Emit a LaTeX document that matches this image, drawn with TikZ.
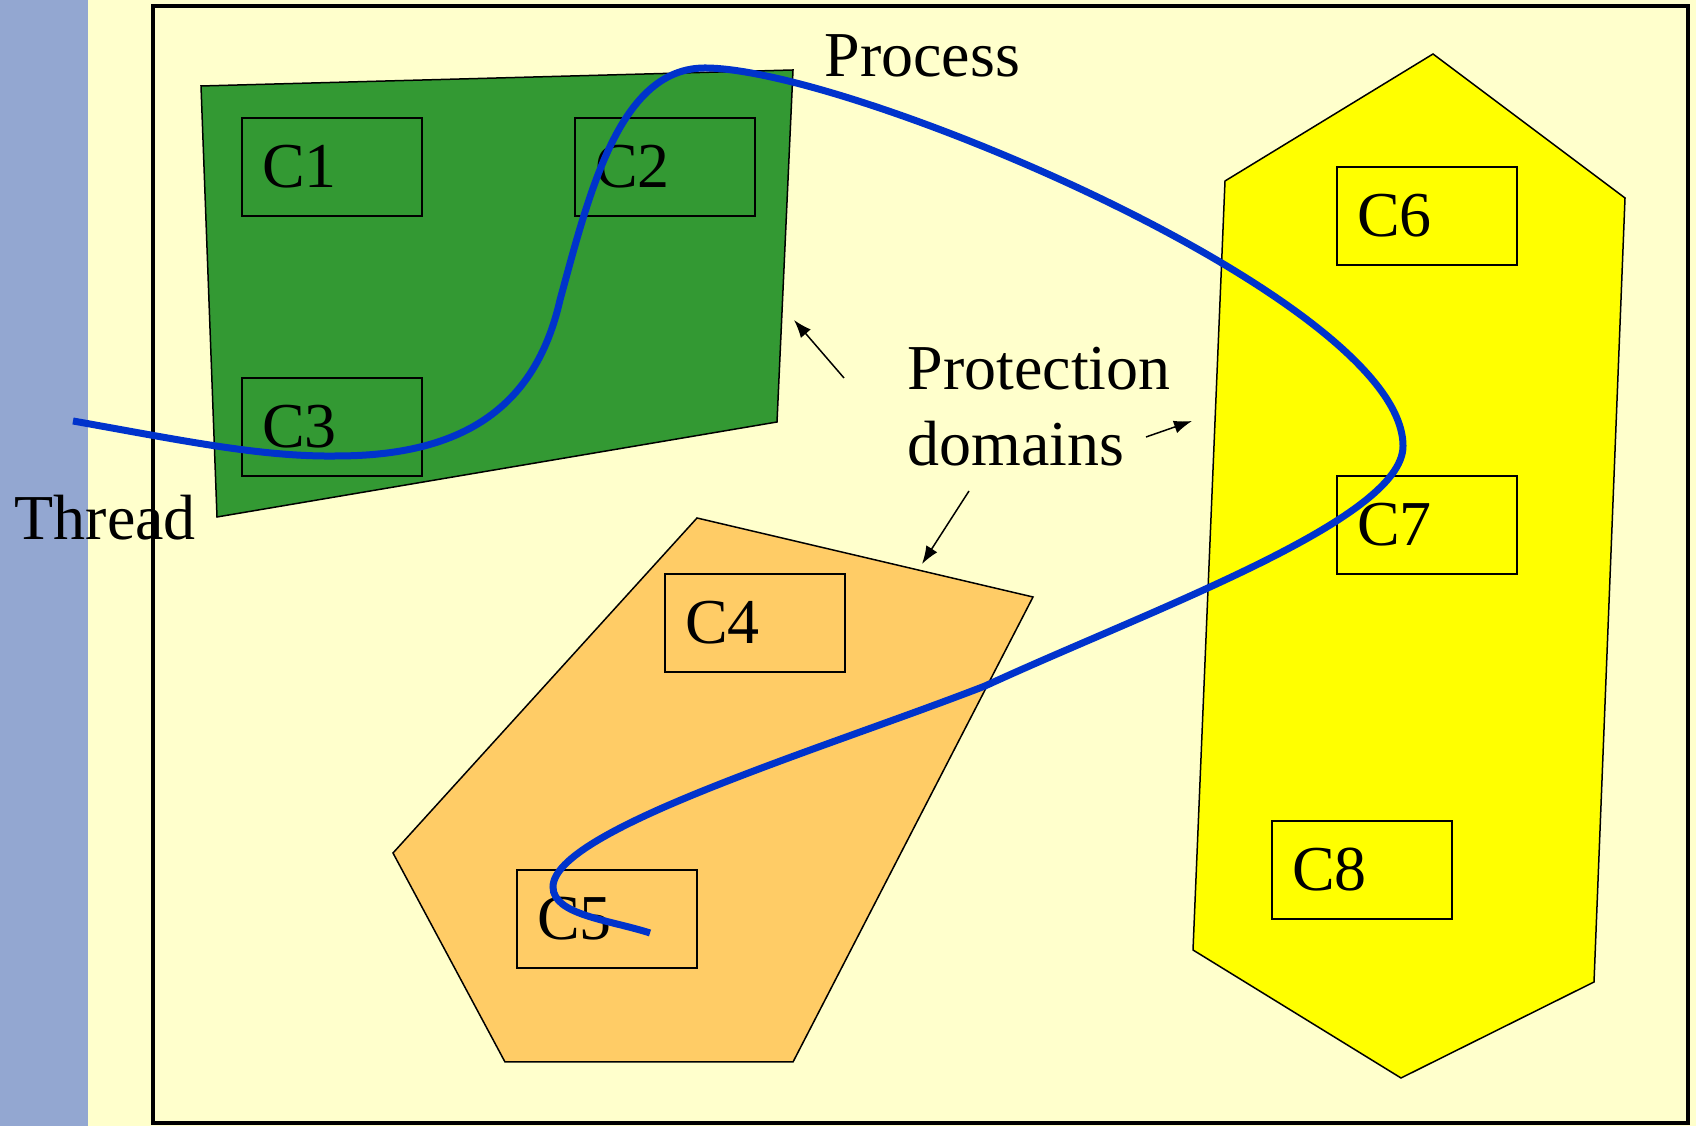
\documentclass[tikz,border=0pt]{standalone}
\usepackage{fontspec}
\setmainfont{Liberation Serif}
\usetikzlibrary{arrows.meta}

\definecolor{slide}{HTML}{FFFFCC}
\definecolor{band}{HTML}{93A7D1}
\definecolor{domgreen}{HTML}{339933}
\definecolor{domorange}{HTML}{FFCC66}
\definecolor{domyellow}{HTML}{FFFF00}
\definecolor{threadblue}{HTML}{0033CC}

\begin{document}
\begin{tikzpicture}[x=0.1mm, y=-0.1mm,
  every node/.style={font=\fontsize{18.2}{21.9}\selectfont},
  comp/.style={draw, line width=0.2mm, minimum width=18mm, minimum height=9.8mm,
    text width=14mm, inner xsep=2mm, align=left},
  txtlabel/.style={anchor=base west, inner sep=0pt},
  pdomain/.style={draw, line width=0.15mm},
  pointer/.style={line width=0.15mm, -{Latex[length=1.8mm,width=1.3mm]}},
  thread/.style={threadblue, line width=0.7mm}]
\useasboundingbox (0,0) rectangle (1696,1126);
\fill[slide] (0,0) rectangle (1696,1126);
\fill[band] (0,0) rectangle (88,1126);
\draw[line width=0.35mm] (153,6) rectangle (1688,1123);

% protection domains
\draw[pdomain, fill=domgreen] (201,86) -- (793,70) -- (777,422) -- (217,517) -- cycle;
\draw[pdomain, fill=domorange] (697,518) -- (1033,597) -- (793,1062) -- (505,1062) -- (393,853) -- cycle;
\draw[pdomain, fill=domyellow] (1433,54) -- (1625,198) -- (1594,982) -- (1401,1078) -- (1193,950) -- (1225,181) -- cycle;

% components
\node[comp] (c1) at (332,167) {C1};
\node[comp] (c2) at (665,167) {C2};
\node[comp] (c3) at (332,427) {C3};
\node[comp] (c4) at (755,623) {C4};
\node[comp] (c5) at (607,919) {C5};
\node[comp] (c6) at (1427,216) {C6};
\node[comp] (c7) at (1427,525) {C7};
\node[comp] (c8) at (1362,870) {C8};

% labels
\node[txtlabel] (process) at (824,77) {Process};
\node[txtlabel] (thread) at (14,540) {Thread};
\node[txtlabel, align=left] (prot) at (907,466) {Protection\\domains};

\coordinate (g1) at (844,378);
\coordinate (g2) at (794,320);
\coordinate (y1) at (1146,437);
\coordinate (y2) at (1192,421);
\coordinate (o1) at (969,491);
\coordinate (o2) at (922,564);
\draw[pointer] (g1) -- (g2);
\draw[pointer] (y1) -- (y2);
\draw[pointer] (o1) -- (o2);

% the thread
\coordinate (t0) at (73,421);
\coordinate (tend) at (650,933);
\draw[thread] (t0) .. controls (180,440) and (260,457) .. (336,456)
  .. controls (460,456) and (535,410) .. (560,300)
  .. controls (590,190) and (620,68) .. (705,68)
  .. controls (850,68) and (1403,300) .. (1403,446)
  .. controls (1403,520) and (1150,610) .. (985,686)
  .. controls (820,750) and (553,830) .. (553,887)
  .. controls (553,915) and (610,920) .. (tend);
\end{tikzpicture}
\end{document}
